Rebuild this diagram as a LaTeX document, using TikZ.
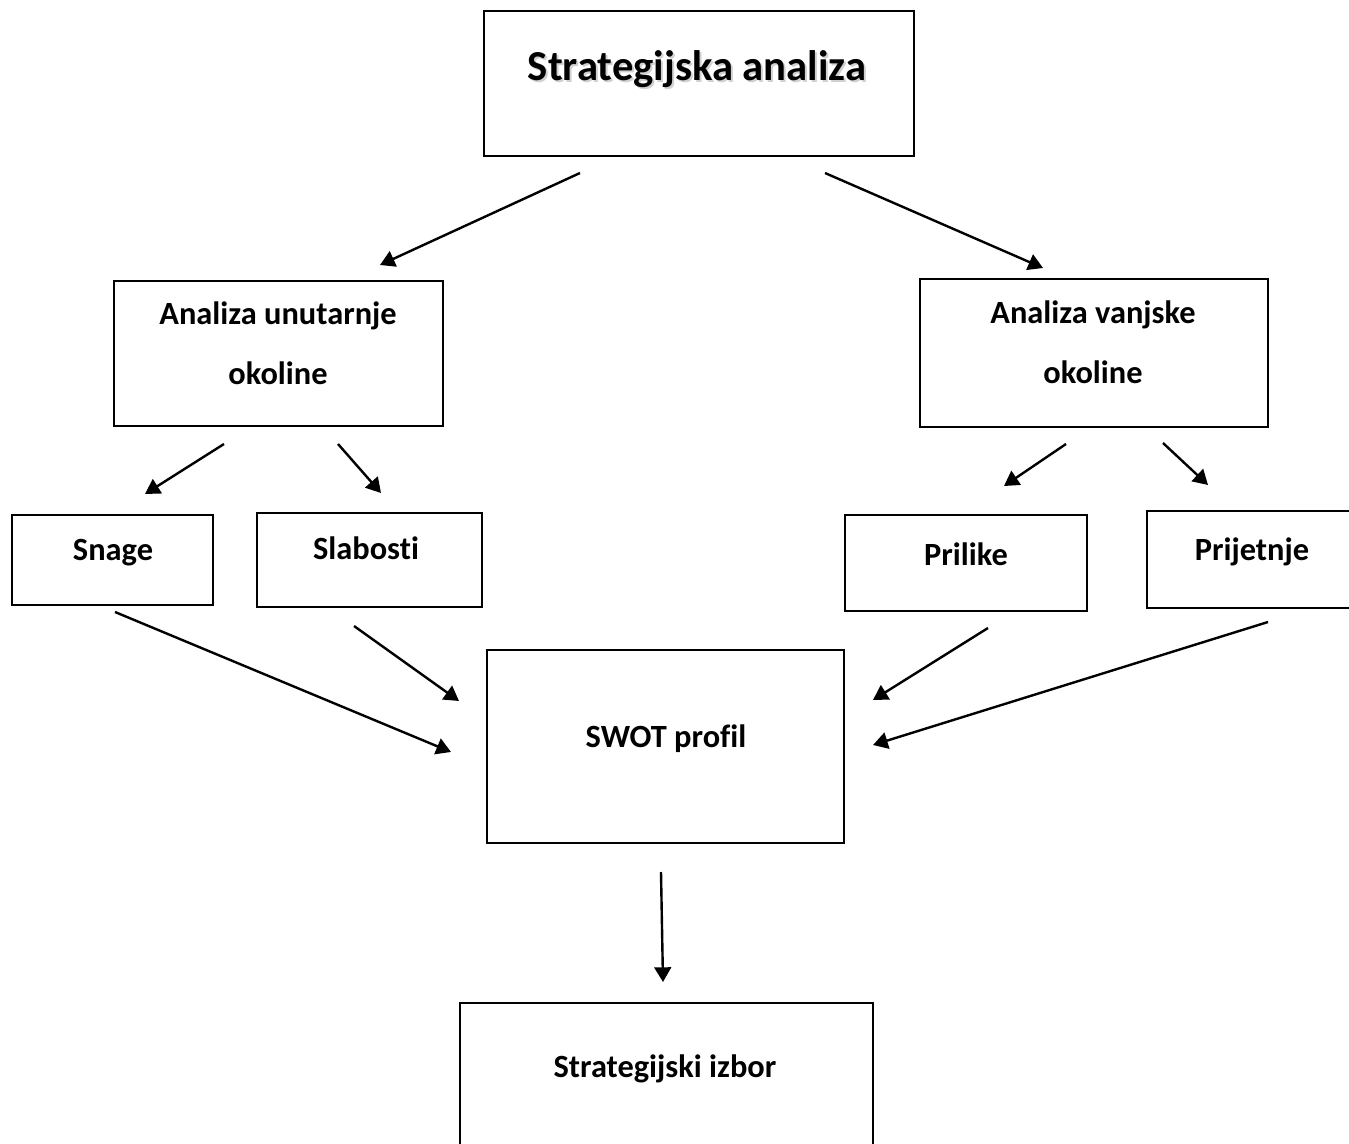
\documentclass[tikz,border=0pt]{standalone}
\usepackage{fontspec}
\setmainfont[Ligatures=NoCommon]{Carlito}
\usepackage{tikz}
\usetikzlibrary{arrows.meta,fit}

\tikzset{
  box/.style={draw, line width=1.8pt, inner sep=0pt},
  lbl/.style={font=\bfseries\fontsize{24.3pt}{45pt}\selectfont, anchor=base, inner sep=0pt, align=center},
  ttl/.style={font=\bfseries\fontsize{32pt}{38pt}\selectfont, anchor=base, inner sep=0pt},
  arr/.style={line width=1.8pt, -{Triangle[length=11pt,width=12.5pt]}}
}

\begin{document}
\begin{tikzpicture}[x=0.75pt,y=-0.75pt]
\useasboundingbox (0,0) rectangle (1349,1144);

% okviri
\node[box, fit={(484,11) (914,156)}] (strat) {};
\node[box, fit={(114,281) (443,426)}] (unut) {};
\node[box, fit={(920,279) (1268,427)}] (vanj) {};
\node[box, fit={(12,515) (213,605)}] (snage) {};
\node[box, fit={(257,513) (482,607)}] (slab) {};
\node[box, fit={(845,515) (1087,611)}] (pril) {};
\node[box, fit={(1147,511) (1357,608)}] (prij) {};
\node[box, fit={(487,650) (844,843)}] (swot) {};
\node[box, fit={(460,1003) (873,1185)}] (izbor) {};

% tekst (base = zadnji redak)
\node[ttl, text=black!18] (strat-sh) at (699,83) {Strategijska analiza};
\node[ttl] (strat-t) at (697,81) {Strategijska analiza};
\node[lbl] (unut-t) at (278,385) {Analiza unutarnje\\okoline};
\node[lbl] (vanj-t) at (1093,384) {Analiza vanjske\\okoline};
\node[lbl] (snage-t) at (113,560) {Snage};
\node[lbl] (slab-t) at (366,559) {Slabosti};
\node[lbl] (pril-t) at (966,565) {Prilike};
\node[lbl] (prij-t) at (1252,560) {Prijetnje};
\node[lbl] (swot-t) at (666,747) {SWOT profil};
\node[lbl] (izbor-t) at (665,1077) {Strategijski izbor};

% strelice
\coordinate (s1) at (580,173);  \coordinate (e1) at (380,265);
\coordinate (s2) at (825,173);  \coordinate (e2) at (1043,268);
\coordinate (s3) at (224,444);  \coordinate (e3) at (145,494);
\coordinate (s4) at (338,444);  \coordinate (e4) at (381,493);
\coordinate (s5) at (1066,444); \coordinate (e5) at (1004,486);
\coordinate (s6) at (1163,443); \coordinate (e6) at (1208,485);
\coordinate (s7) at (115,612);  \coordinate (e7) at (451,752);
\coordinate (s8) at (354,626);  \coordinate (e8) at (459,701);
\coordinate (s9) at (988,628);  \coordinate (e9) at (873,700);
\coordinate (s10) at (1268,622); \coordinate (e10) at (873,745);
\coordinate (s11) at (661,872); \coordinate (e11) at (663,982);
\foreach \i in {1,...,11}
  \draw[arr] (s\i) -- (e\i);
\end{tikzpicture}
\end{document}
